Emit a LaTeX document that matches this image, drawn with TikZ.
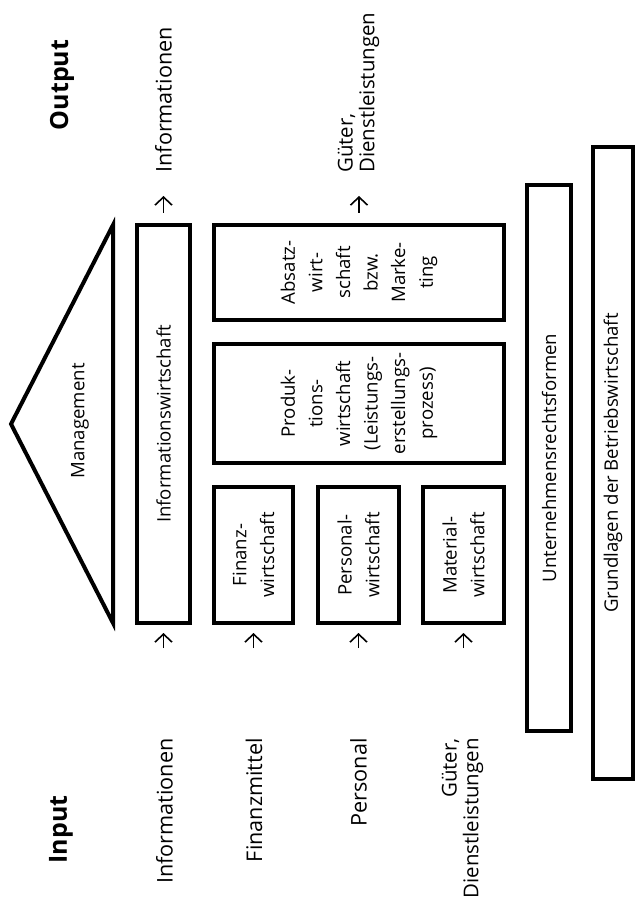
\documentclass[tikz,border=0pt]{standalone}
\usepackage{fontspec}
\setmainfont{Open Sans}
\usetikzlibrary{arrows.meta}

\tikzset{
  box/.style={draw,line width=2pt,rotate=90,inner sep=0pt,align=center,
    font=\fontsize{9.3}{13.8}\selectfont},
  lbl/.style={rotate=90,inner sep=0pt,font=\fontsize{10.8}{11}\selectfont},
  twolbl/.style={lbl,font=\fontsize{10.2}{10.8}\selectfont},
  iolbl/.style={rotate=90,inner sep=0pt,font=\fontsize{12.5}{14}\selectfont\bfseries},
  flow/.style={-{Straight Barb[length=4pt,width=8.5pt]},line width=0.8pt},
}

\begin{document}
\begin{tikzpicture}[x=0.5pt,y=-0.5pt]
  \useasboundingbox (0,0) rectangle (636,903);

  % management triangle
  \coordinate (apex) at (11,424);
  \coordinate (mtop) at (113,225);
  \coordinate (mbot) at (113,623);
  \draw[line width=2pt] (apex) -- (mtop) -- (mbot) -- cycle;
  \node[lbl,font=\fontsize{9.3}{11}\selectfont] (mgmt) at (80,421) {Management};

  % functional areas
  \node[box,minimum width=199pt,minimum height=26.5pt] (info) at (163.5,424) {Informationswirtschaft};
  \node[box,minimum width=47.5pt,minimum height=145pt] (absatz) at (359,272.5)
    {Absatz-\\wirt-\\schaft\\bzw.\\Marke-\\ting};
  \node[box,minimum width=59.5pt,minimum height=145pt] (prod) at (359,403.5)
    {Produk-\\tions-\\wirtschaft\\(Leistungs-\\erstellungs-\\prozess)};
  \node[box,minimum width=68pt,minimum height=39.5pt] (finanz) at (253.5,555) {Finanz-\\wirtschaft};
  \node[box,minimum width=68pt,minimum height=40.5pt] (personal) at (358.5,555) {Personal-\\wirtschaft};
  \node[box,minimum width=68pt,minimum height=40.5pt] (material) at (463.5,555) {Material-\\wirtschaft};

  % foundations
  \node[box,minimum width=273pt,minimum height=22pt] (rechtsform) at (549,458) {Unternehmensrechtsformen};
  \node[box,minimum width=316pt,minimum height=20pt] (grundlagen) at (613,463) {Grundlagen der Betriebswirtschaft};

  % output side
  \node[iolbl] (output) at (62,85) {Output};
  \node[lbl,anchor=west] (outinfo) at (163.5,173) {Informationen};
  \node[twolbl,anchor=west,align=left] (outgueter) at (358.5,173) {Güter,\\Dienstleistungen};
  \draw[flow] ([yshift=5pt]info.east) -- ([yshift=13.5pt]info.east);
  \draw[flow] ([yshift=5pt]absatz.east) -- ([yshift=13.5pt]absatz.east);

  % input side
  \node[iolbl] (input) at (61,829.5) {Input};
  \node[lbl,anchor=east] (ininfo) at (164.5,738) {Informationen};
  \node[lbl,anchor=east] (infinanz) at (254,738) {Finanzmittel};
  \node[lbl,anchor=east] (inpersonal) at (358.5,738) {Personal};
  \node[twolbl,anchor=east,align=right] (ingueter) at (462.5,738) {Güter,\\Dienstleistungen};
  \draw[flow] ([yshift=-11.5pt]info.west) -- ([yshift=-4pt]info.west);
  \draw[flow] ([yshift=-11.5pt]finanz.west) -- ([yshift=-4pt]finanz.west);
  \draw[flow] ([yshift=-11.5pt]personal.west) -- ([yshift=-4pt]personal.west);
  \draw[flow] ([yshift=-11.5pt]material.west) -- ([yshift=-4pt]material.west);
\end{tikzpicture}
\end{document}
